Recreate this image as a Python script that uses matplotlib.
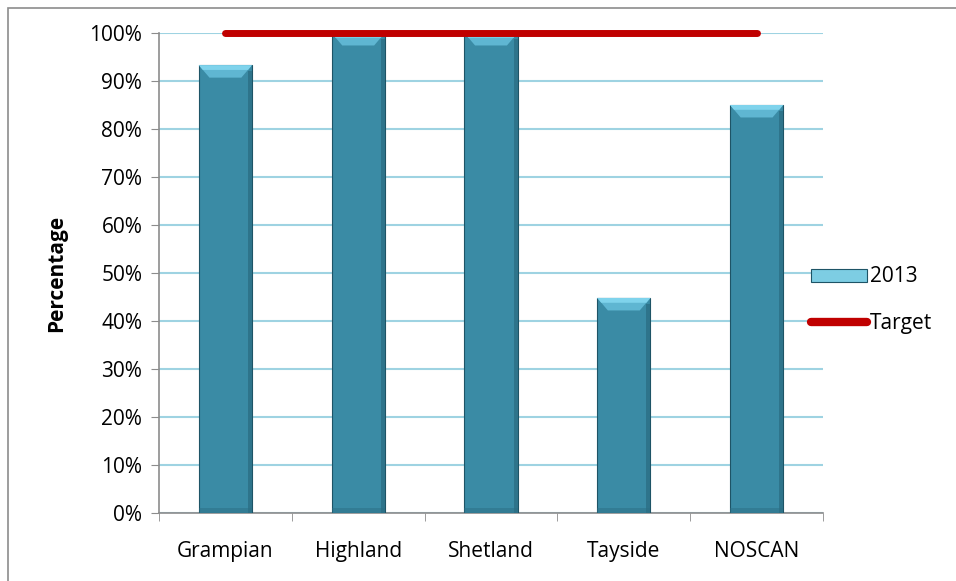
import matplotlib
matplotlib.use("Agg")
import matplotlib.pyplot as plt
from matplotlib.patches import Polygon, Rectangle
from matplotlib.lines import Line2D
import numpy as np

categories = ["Grampian", "Highland", "Shetland", "Tayside", "NOSCAN"]
values_2013 = [93.3, 100.0, 100.0, 44.8, 85.0]
target = [100, 100, 100, 100, 100]
yticks = [0, 10, 20, 30, 40, 50, 60, 70, 80, 90, 100]
ytick_labels = [f"{t}%" for t in yticks]

plt.rcParams['font.family'] = ['Open Sans', 'DejaVu Sans']

fig = plt.figure(figsize=(9.56, 5.81), dpi=100)
ax = fig.add_axes([159/956, 1-513/581, 664/956, 480/581])

# figure border
fig.patches.append(Rectangle((8/956, -0.1), 1.2, 1-8/581+0.1, transform=fig.transFigure,
                             fill=False, edgecolor="#8c8c8c", linewidth=1.2))

x = np.arange(len(categories))
bw = 0.4
face = "#3A8BA5"
edge = "#1E5466"
bevel = "#5FB6D2"
bars = ax.bar(x, values_2013, width=bw, color=face, edgecolor=edge, linewidth=0.8, zorder=3)
# bevel top & side shading
bh = 2.6
for xi, v in zip(x, values_2013):
    l, r = xi - bw/2, xi + bw/2
    ax.add_patch(Polygon([[l, v], [r, v], [r - 0.08, v - bh], [l + 0.08, v - bh]],
                         closed=True, facecolor=bevel, edgecolor="none", zorder=4))
    ax.add_patch(Polygon([[l, v], [r, v], [r - 0.03, v - 1.0], [l + 0.03, v - 1.0]],
                         closed=True, facecolor="#7FD3EC", edgecolor="none", zorder=4))
    ax.add_patch(Rectangle((r - 0.03, 0), 0.03, v - bh/2, facecolor="#2C6F85",
                           edgecolor="none", zorder=4, alpha=0.8))
    ax.add_patch(Rectangle((l, 0), bw, 1.0, facecolor="#2C6F85", edgecolor="none", zorder=4, alpha=0.5))

ax.plot(x, target, color="#C00000", linewidth=5, solid_capstyle="round", zorder=5, clip_on=False)

ax.set_xlim(-0.5, len(categories) - 0.5)
ax.set_ylim(0, 100)
ax.set_yticks(yticks)
ax.set_yticklabels(ytick_labels, fontsize=15)
ax.set_xticks(x)
ax.set_xticklabels(categories, fontsize=15)
ax.set_xticks(np.arange(-0.5, len(categories)), minor=True)
ax.tick_params(axis='x', which='major', length=0, pad=20)
ax.tick_params(axis='x', which='minor', length=6, color="#8c8c8c", direction="out")
ax.tick_params(axis='y', length=6, color="#8c8c8c", direction="out", pad=6)
ax.yaxis.grid(True, color="#9ED3E2", linewidth=1.5, zorder=0)
ax.set_axisbelow(True)
for s in ["top", "right"]:
    ax.spines[s].set_visible(False)
for s in ["left", "bottom"]:
    ax.spines[s].set_color("#8c8c8c")
    ax.spines[s].set_linewidth(1.2)

ax.set_ylabel("Percentage", fontsize=15, fontweight="bold", labelpad=16)

handles = [Rectangle((0, 0), 1, 1, facecolor="#7DCDE3", edgecolor=edge, linewidth=0.8),
           Line2D([0], [0], color="#C00000", linewidth=6, solid_capstyle="round")]
fig.legend(handles, ["2013", "Target"], loc="center left", bbox_to_anchor=(811/956, 1-300/581),
           frameon=False, fontsize=15, handlelength=2.7, handleheight=0.6, handletextpad=0.15,
           labelspacing=1.2, borderaxespad=0, borderpad=0)

fig.savefig("out.png", dpi=100)
